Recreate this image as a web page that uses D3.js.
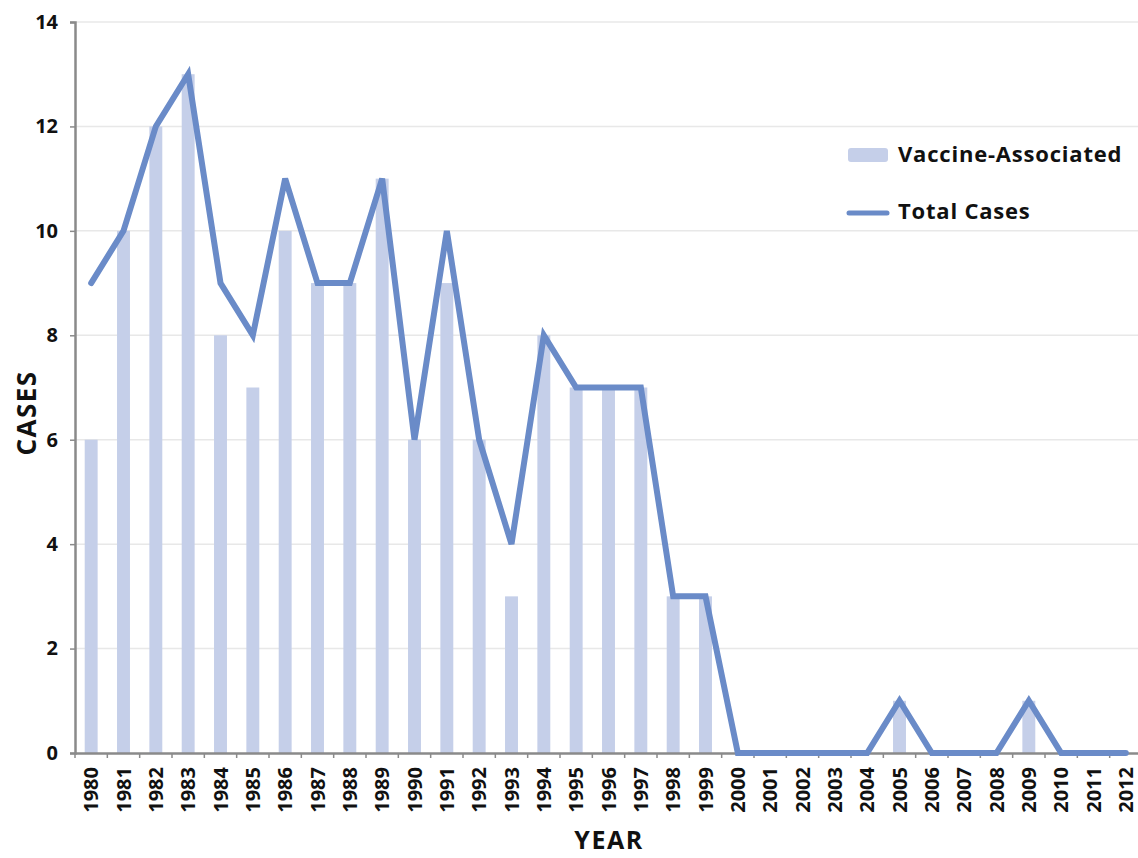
<!DOCTYPE html>
<html>
<head>
<meta charset="utf-8">
<script src="https://cdn.jsdelivr.net/npm/d3@7"></script>
<style>
  body { margin: 0; background: #fff; overflow: hidden; }
  text { font-family: "Open Sans", sans-serif; font-weight: 700; fill: #111; }
</style>
</head>
<body>
<div id="chart"></div>
<script>
const years = d3.range(1980, 2013).map(String);
const vaccineAssociated = [6, 10, 12, 13, 8, 7, 10, 9, 9, 11, 6, 9, 6, 3, 8, 7, 7, 7, 3, 3,
  0, 0, 0, 0, 0, 1, 0, 0, 0, 1, 0, 0, 0];
const totalCases = [9, 10, 12, 13, 9, 8, 11, 9, 9, 11, 6, 10, 6, 4, 8, 7, 7, 7, 3, 3,
  0, 0, 0, 0, 0, 1, 0, 0, 0, 1, 0, 0, 0];
const yTicks = [0, 2, 4, 6, 8, 10, 12, 14];
const legendLabels = ['Vaccine-Associated', 'Total Cases'];

const W = 1138, H = 858;
// plot runs a little past the right edge, as in the source image
const margin = { top: 22, right: -4, bottom: 105, left: 75 };
const width = W - margin.left - margin.right;
const height = H - margin.top - margin.bottom;
const barColor = '#c5cfe9';
const lineColor = '#6a8bc8';
const axisColor = '#8a8a8a';

const svg = d3.select('#chart').append('svg')
  .attr('width', W)
  .attr('height', H);
const g = svg.append('g')
  .attr('transform', 'translate(' + margin.left + ',' + margin.top + ')');

const x = d3.scaleBand()
  .domain(years)
  .range([0, width])
  .paddingInner(0.6)
  .paddingOuter(0.3);
const y = d3.scaleLinear()
  .domain([0, 14])
  .range([height, 0]);

// gridlines
g.selectAll('.grid')
  .data(yTicks.filter(d => d > 0))
  .enter().append('line')
    .attr('x1', 0).attr('x2', width)
    .attr('y1', d => y(d)).attr('y2', d => y(d))
    .attr('stroke', '#e8e8e8')
    .attr('stroke-width', 1.5);

// bars
g.selectAll('.bar')
  .data(years.map((yr, i) => ({ yr, v: vaccineAssociated[i] })))
  .enter().append('rect')
    .attr('x', d => x(d.yr))
    .attr('width', x.bandwidth())
    .attr('y', d => y(d.v))
    .attr('height', d => y(0) - y(d.v))
    .attr('fill', barColor);

// y axis
const yAxis = g.append('g')
  .call(d3.axisLeft(y).tickValues(yTicks).tickSize(5).tickPadding(12));
yAxis.select('.domain').attr('stroke', axisColor).attr('stroke-width', 2.5);
yAxis.selectAll('.tick line').attr('stroke', axisColor).attr('stroke-width', 1.5);
yAxis.selectAll('.tick text')
  .style('font-family', '"Open Sans", sans-serif')
  .style('font-weight', 700)
  .style('font-size', '20px')
  .attr('fill', '#111');

// x axis
const xAxis = g.append('g')
  .attr('transform', 'translate(0,' + height + ')')
  .call(d3.axisBottom(x).tickSize(0).tickPadding(0));
xAxis.select('.domain').attr('stroke', axisColor).attr('stroke-width', 2.5);
xAxis.selectAll('.tick text')
  .style('font-family', '"Open Sans", sans-serif')
  .style('font-weight', 700)
  .style('font-size', '20px')
  .attr('fill', '#111')
  .attr('transform', 'rotate(-90)')
  .attr('text-anchor', 'end')
  .attr('x', -14)
  .attr('y', 0)
  .attr('dy', '0.36em');

// x boundary ticks
const step = x.step();
const gap = (step - x.bandwidth()) / 2;
const boundaries = years.map(yr => x(yr) - gap).concat([x(years[years.length - 1]) + x.bandwidth() + gap]);
g.selectAll('.xtick')
  .data(boundaries)
  .enter().append('line')
    .attr('x1', d => d).attr('x2', d => d)
    .attr('y1', height).attr('y2', height + 5)
    .attr('stroke', axisColor)
    .attr('stroke-width', 1.5);

// total cases line
const line = d3.line()
  .x(d => x(d.yr) + x.bandwidth() / 2)
  .y(d => y(d.v));
g.append('path')
  .datum(years.map((yr, i) => ({ yr, v: totalCases[i] })))
  .attr('d', line)
  .attr('fill', 'none')
  .attr('stroke', lineColor)
  .attr('stroke-width', 6)
  .attr('stroke-linejoin', 'miter')
  .attr('stroke-linecap', 'round');

// axis titles
svg.append('text')
  .attr('x', 609).attr('y', 849)
  .attr('text-anchor', 'middle')
  .style('font-size', '25px')
  .style('letter-spacing', '1.5px')
  .text('YEAR');
svg.append('text')
  .attr('transform', 'translate(36,413) rotate(-90)')
  .attr('text-anchor', 'middle')
  .style('font-size', '26px')
  .style('letter-spacing', '1.5px')
  .text('CASES');

// legend
const legend = svg.append('g').attr('transform', 'translate(848,0)');
legend.append('rect')
  .attr('x', 0).attr('y', 148)
  .attr('width', 40).attr('height', 14)
  .attr('rx', 3)
  .attr('fill', barColor);
legend.append('line')
  .attr('x1', 1).attr('x2', 39)
  .attr('y1', 213).attr('y2', 213)
  .attr('stroke', lineColor)
  .attr('stroke-width', 5)
  .attr('stroke-linecap', 'round');
legend.selectAll('.ltext')
  .data(legendLabels)
  .enter().append('text')
    .attr('x', 50)
    .attr('y', (d, i) => i === 0 ? 162 : 219)
    .style('font-size', '22px')
    .style('letter-spacing', '0.8px')
    .text(d => d);
</script>
</body>
</html>
